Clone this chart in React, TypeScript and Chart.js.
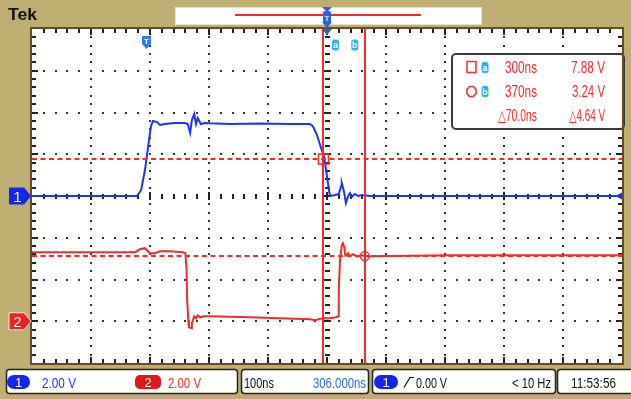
import React, { useEffect, useRef } from "react";
import { Chart, registerables } from "chart.js";
Chart.register(...registerables);

// ---- data (time in ns, voltage in V) ----
const ch1Times = [-194, -16, -9, -2.5, 4.3, 7.7, 11, 18, 23, 31, 48, 65, 70, 74, 77, 81, 84, 87, 92, 99, 108, 142, 192, 243, 277, 282, 289, 296, 301, 304, 308, 311, 320, 326, 330, 331, 335, 338, 342, 345, 348, 353, 359, 365, 379, 806];
const ch1Volts = [0, 0, 0.29, 1.25, 2.68, 3.35, 3.59, 3.54, 3.4, 3.45, 3.5, 3.5, 3.45, 3.02, 3.64, 3.93, 3.45, 3.74, 3.45, 3.5, 3.48, 3.45, 3.47, 3.45, 3.45, 3.35, 2.92, 2.3, 1.87, 1.34, 0.53, 0.0, 0.05, 0.1, 0.48, 0.62, 0.19, -0.34, 0.0, 0.14, -0.05, 0.1, 0.0, 0.05, 0.0, 0.0];
const ch2Times = [-194, -19, -11, -2.5, 6, 14.5, 23, 40, 62, 66, 68, 69, 71, 72, 76, 77, 81, 84, 87, 91, 97, 108, 175, 226, 277, 286, 298, 311, 321, 325, 326, 328, 331, 333, 335, 337, 340, 342, 345, 350, 357, 365, 379, 514, 701, 806];
const ch2Volts = [3.31, 3.31, 3.45, 3.5, 3.26, 3.26, 3.35, 3.35, 3.31, 3.26, 2.44, 1.0, 0.05, -0.29, -0.34, -0.1, 0.24, 0.14, 0.29, 0.19, 0.24, 0.24, 0.19, 0.14, 0.1, 0.05, 0.14, 0.14, 0.19, 0.24, 1.49, 2.92, 3.64, 3.74, 3.59, 3.16, 3.21, 3.26, 3.11, 3.21, 3.11, 3.16, 3.11, 3.16, 3.16, 3.16];
const voltsPerDiv = [2, 2];
const groundDiv = [0, -3];
const timeCenter = 306;
const timePerDiv = 100;
const cursorTimes = [300, 370];
const cursorVolts = [7.77, 3.12]; // referenced to channel 2
const readoutTimes = ["300ns", "370ns", "\u25B370.0ns"];
const readoutVolts = ["7.88 V", "3.24 V", "\u25B34.64 V"];
const triggerLevel = "0.00 V";
const triggerFreq = "< 10 Hz";
const clockText = "11:53:56";

const TAN = "#BFAE72";
const BROWN = "#6B4A22";
const BLUE = "#1E32F5";
const RED = "#F52A2A";
const CYAN = "#2BB0EE";
const FONT = '"Liberation Sans", Arial, sans-serif';

function rr(ctx: CanvasRenderingContext2D, x: number, y: number, w: number, h: number, r: number) {
  ctx.beginPath();
  ctx.moveTo(x + r, y);
  ctx.arcTo(x + w, y, x + w, y + h, r);
  ctx.arcTo(x + w, y + h, x, y + h, r);
  ctx.arcTo(x, y + h, x, y, r);
  ctx.arcTo(x, y, x + w, y, r);
  ctx.closePath();
}

function fitText(ctx: CanvasRenderingContext2D, text: string, left: number, right: number, base: number, size: number, color: string, weight = "normal") {
  ctx.save();
  ctx.font = `${weight} ${size}px ${FONT}`;
  ctx.fillStyle = color;
  ctx.textAlign = "left";
  ctx.textBaseline = "alphabetic";
  const w = ctx.measureText(text).width || 1;
  ctx.translate(left, base);
  ctx.scale((right - left) / w, 1);
  ctx.fillText(text, 0, 0);
  ctx.restore();
}

function centerText(ctx: CanvasRenderingContext2D, text: string, cx: number, base: number, size: number, color: string, weight = "bold") {
  ctx.save();
  ctx.font = `${weight} ${size}px ${FONT}`;
  ctx.fillStyle = color;
  ctx.textAlign = "center";
  ctx.fillText(text, cx, base);
  ctx.restore();
}

function badge(ctx: CanvasRenderingContext2D, x: number, y: number, w: number, h: number, fill: string, label: string) {
  ctx.save();
  rr(ctx, x, y, w, h, h / 2);
  ctx.fillStyle = fill;
  ctx.fill();
  centerText(ctx, label, x + w / 2, y + h - 2.5, 13, "#fff", "normal");
  ctx.restore();
}

function smallBadge(ctx: CanvasRenderingContext2D, cx: number, cy: number, label: string) {
  ctx.save();
  rr(ctx, cx - 3.5, cy - 5.5, 7, 11, 2.5);
  ctx.fillStyle = CYAN;
  ctx.fill();
  centerText(ctx, label, cx, cy + 3, 9, "#fff", "bold");
  ctx.restore();
}

const scopePlugin = {
  id: "scope",
  beforeDraw(chart: any) {
    const { ctx, chartArea: a, width, height } = chart;
    const xs = chart.scales.x, ys = chart.scales.y;
    ctx.save();
    ctx.fillStyle = TAN;
    ctx.fillRect(0, 0, width, height);
    ctx.fillStyle = "#fff";
    ctx.fillRect(a.left, a.top, a.right - a.left, a.bottom - a.top);

    const tMin = xs.min, tMax = xs.max;
    const nx = Math.round((tMax - tMin) / (timePerDiv / 5));
    const ny = Math.round((ys.max - ys.min) / 0.2);
    ctx.fillStyle = "#333";
    // dotted major lines
    for (let k = -4; k <= 4; k++) {
      const px = xs.getPixelForValue(timeCenter + k * timePerDiv);
      for (let j = 1; j < ny; j++) {
        const py = ys.getPixelForValue(ys.min + j * 0.2);
        if (k !== 0) ctx.fillRect(Math.round(px) - 1, Math.round(py) - 1, 2, 2);
      }
    }
    for (let m = -3; m <= 3; m++) {
      const py = ys.getPixelForValue(m);
      for (let i = 1; i < nx; i++) {
        const px = xs.getPixelForValue(tMin + i * timePerDiv / 5);
        if (m !== 0) ctx.fillRect(Math.round(px) - 1, Math.round(py) - 1, 2, 2);
      }
    }
    // center axes tick marks
    ctx.fillStyle = "#222";
    const cx = xs.getPixelForValue(timeCenter), cy = ys.getPixelForValue(0);
    for (let j = 1; j < ny; j++) {
      const py = ys.getPixelForValue(ys.min + j * 0.2);
      const major = j % 5 === 0;
      const L = major ? 8 : 5;
      ctx.fillRect(Math.round(cx - L / 2), Math.round(py) - 1, L, 2);
    }
    for (let i = 1; i < nx; i++) {
      const px = xs.getPixelForValue(tMin + i * timePerDiv / 5);
      const major = i % 5 === 0;
      const L = major ? 8 : 5;
      ctx.fillRect(Math.round(px) - 1, Math.round(cy - L / 2), 2, L);
    }
    // border ticks
    for (let i = 1; i < nx; i++) {
      const px = xs.getPixelForValue(tMin + i * timePerDiv / 5);
      const L = i % 5 === 0 ? 6 : 4;
      ctx.fillRect(Math.round(px) - 1, a.top, 2, L);
      ctx.fillRect(Math.round(px) - 1, a.bottom - L, 2, L);
    }
    for (let j = 1; j < ny; j++) {
      const py = ys.getPixelForValue(ys.min + j * 0.2);
      const L = j % 5 === 0 ? 6 : 4;
      ctx.fillRect(a.left, Math.round(py) - 1, L, 2);
      ctx.fillRect(a.right - L, Math.round(py) - 1, L, 2);
    }
    ctx.restore();
  },
  afterDatasetsDraw(chart: any) {
    const { ctx, chartArea: a } = chart;
    const xs = chart.scales.x, ys = chart.scales.y;
    ctx.save();
    ctx.beginPath();
    ctx.rect(a.left, a.top, a.right - a.left, a.bottom - a.top);
    ctx.clip();
    // horizontal dashed cursors (ch2 reference)
    const cyPix = cursorVolts.map((v) => ys.getPixelForValue(v / voltsPerDiv[1] + groundDiv[1]));
    const cxPix = cursorTimes.map((t) => xs.getPixelForValue(t));
    ctx.strokeStyle = RED;
    ctx.lineWidth = 2;
    ctx.setLineDash([5, 3.5]);
    cyPix.forEach((py) => {
      ctx.beginPath();
      ctx.moveTo(a.left, Math.round(py));
      ctx.lineTo(a.right, Math.round(py));
      ctx.stroke();
    });
    ctx.setLineDash([]);
    ctx.lineWidth = 2;
    cxPix.forEach((px) => {
      ctx.beginPath();
      ctx.moveTo(Math.round(px), a.top);
      ctx.lineTo(Math.round(px), a.bottom);
      ctx.stroke();
    });
    // cursor markers
    ctx.lineWidth = 1.5;
    ctx.strokeRect(cxPix[0] - 5, cyPix[0] - 5, 10, 10);
    ctx.beginPath();
    ctx.arc(cxPix[1], cyPix[1], 4.5, 0, Math.PI * 2);
    ctx.stroke();
    // cursor badges at top
    smallBadge(ctx, cxPix[0] + 12, a.top + 16, "a");
    smallBadge(ctx, cxPix[1] - 10, a.top + 16, "b");
    // trigger point marker
    const tx = xs.getPixelForValue(0);
    ctx.fillStyle = "#2E7DE8";
    ctx.beginPath();
    ctx.moveTo(tx - 4.5, a.top + 7);
    ctx.lineTo(tx + 4.5, a.top + 7);
    ctx.lineTo(tx + 4.5, a.top + 15);
    ctx.lineTo(tx, a.top + 20);
    ctx.lineTo(tx - 4.5, a.top + 15);
    ctx.closePath();
    ctx.fill();
    centerText(ctx, "T", tx, a.top + 15, 8, "#fff", "bold");
    // trigger position arrow at top center
    const tc = xs.getPixelForValue(timeCenter);
    ctx.fillStyle = "#2060E8";
    ctx.beginPath();
    ctx.moveTo(tc - 5, a.top);
    ctx.lineTo(tc + 5, a.top);
    ctx.lineTo(tc, a.top + 6);
    ctx.closePath();
    ctx.fill();
    // ch1 right end arrow
    const g1 = ys.getPixelForValue(groundDiv[0]);
    ctx.fillStyle = BLUE;
    ctx.beginPath();
    ctx.moveTo(a.right - 7, g1);
    ctx.lineTo(a.right, g1 - 3.5);
    ctx.lineTo(a.right, g1 + 3.5);
    ctx.closePath();
    ctx.fill();
    ctx.restore();

    // readout box
    ctx.save();
    const bx = 452, by = 54, bw = a.right - 452 + 2, bh = 75;
    rr(ctx, bx, by, bw, bh, 4);
    ctx.fillStyle = "#fff";
    ctx.fill();
    ctx.strokeStyle = "#3a3a3a";
    ctx.lineWidth = 2;
    ctx.stroke();
    const bases = [72.5, 96.5, 121];
    ctx.strokeStyle = RED;
    ctx.lineWidth = 1.5;
    ctx.strokeRect(467, 61.5, 9, 11);
    ctx.beginPath();
    const ocx = 471.5, ocy = 91.5;
    for (let i = 0; i < 8; i++) {
      const ang = Math.PI / 8 + (i * Math.PI) / 4;
      const px = ocx + 5 * Math.cos(ang), py = ocy + 5.5 * Math.sin(ang);
      if (i === 0) ctx.moveTo(px, py); else ctx.lineTo(px, py);
    }
    ctx.closePath();
    ctx.stroke();
    smallBadge(ctx, 485, 67.5, "a");
    smallBadge(ctx, 485, 91.5, "b");
    const tl = [505, 505, 498];
    const vl = [571, 572, 569];
    readoutTimes.forEach((s, i) => fitText(ctx, s, tl[i], 537, bases[i], 16, RED));
    readoutVolts.forEach((s, i) => fitText(ctx, s, vl[i], 605, bases[i], 16, RED));
    ctx.restore();
  },
  afterDraw(chart: any) {
    const { ctx, chartArea: a } = chart;
    const ys = chart.scales.y;
    const xs = chart.scales.x;
    ctx.save();
    // graticule border
    ctx.strokeStyle = BROWN;
    ctx.lineWidth = 2;
    ctx.strokeRect(a.left - 1, a.top - 1, a.right - a.left + 2, a.bottom - a.top + 2);

    // top bar
    fitText(ctx, "Tek", 8, 37, 20, 17, "#111", "bold");
    ctx.fillStyle = "#fff";
    ctx.fillRect(175, 7, 307, 18);
    ctx.strokeStyle = "#e8e2cc";
    ctx.lineWidth = 1;
    ctx.strokeRect(175.5, 7.5, 306, 17);
    ctx.fillStyle = RED;
    ctx.fillRect(235, 14, 186, 2);
    const tc = xs.getPixelForValue(timeCenter);
    ctx.fillStyle = "#2A62E6";
    ctx.beginPath();
    ctx.moveTo(tc - 5, 7);
    ctx.lineTo(tc + 5, 7);
    ctx.lineTo(tc, 12);
    ctx.closePath();
    ctx.fill();
    rr(ctx, tc - 4, 11, 8, 13, 2);
    ctx.fill();
    ctx.beginPath();
    ctx.moveTo(tc - 5, 22);
    ctx.lineTo(tc + 5, 22);
    ctx.lineTo(tc, 28);
    ctx.closePath();
    ctx.fill();
    centerText(ctx, "T", tc, 21, 8, "#cfe0ff", "bold");

    // channel ground markers
    const g1 = ys.getPixelForValue(groundDiv[0]);
    const g2 = ys.getPixelForValue(groundDiv[1]);
    const marker = (gy: number, fill: string, label: string, outline: boolean) => {
      ctx.beginPath();
      ctx.moveTo(9, gy - 8.5);
      ctx.lineTo(24, gy - 8.5);
      ctx.lineTo(31, gy);
      ctx.lineTo(24, gy + 8.5);
      ctx.lineTo(9, gy + 8.5);
      ctx.closePath();
      ctx.fillStyle = fill;
      ctx.fill();
      if (outline) {
        ctx.strokeStyle = "#f4e8e0";
        ctx.lineWidth = 1;
        ctx.stroke();
      }
      centerText(ctx, label, 17.5, gy + 5.5, 15, "#fff", "normal");
    };
    marker(g1, "#1426EE", "1", false);
    marker(g2, "#F02020", "2", true);

    // bottom status boxes
    const boxes = [[6, 369, 231, 24], [241, 369, 127, 24], [372, 369, 183, 24], [557, 369, 80, 24]];
    boxes.forEach(([x, y, w, h]) => {
      rr(ctx, x + 0.5, y + 0.5, w, h, 3);
      ctx.fillStyle = "#fff";
      ctx.fill();
      ctx.strokeStyle = "#222";
      ctx.lineWidth = 1.5;
      ctx.stroke();
    });
    const base = 387.5;
    badge(ctx, 7, 375, 23, 14, "#1426EE", "1");
    fitText(ctx, voltsPerDiv[0].toFixed(2) + " V", 42, 76, base, 14, "#2233EE");
    rr(ctx, 135, 375, 26, 14, 5);
    ctx.fillStyle = "#E01818";
    ctx.fill();
    centerText(ctx, "2", 148, 387, 13, "#fff", "normal");
    fitText(ctx, voltsPerDiv[1].toFixed(2) + " V", 168, 201, base, 14, RED);
    fitText(ctx, timePerDiv + "ns", 244, 274, base, 14, "#111");
    fitText(ctx, timeCenter.toFixed(3) + "ns", 313, 366, base, 14, "#2A6BEA");
    badge(ctx, 374, 375, 24, 14, "#1426EE", "1");
    ctx.strokeStyle = "#111";
    ctx.lineWidth = 1.2;
    ctx.beginPath();
    ctx.moveTo(404, 387.5);
    ctx.lineTo(410, 377.5);
    ctx.lineTo(414, 377.5);
    ctx.stroke();
    fitText(ctx, triggerLevel, 416, 447, base, 14, "#111");
    fitText(ctx, triggerFreq, 512, 551, base, 14, "#111");
    fitText(ctx, clockText, 571, 616, base, 14, "#111");
    ctx.restore();
  },
};

export default function App() {
  const ref = useRef<HTMLCanvasElement | null>(null);
  useEffect(() => {
    if (!ref.current) return;
    const chart = new Chart(ref.current, {
      type: "line",
      data: {
        datasets: [
          {
            label: "CH1",
            data: ch1Times.map((t, i) => ({ x: t, y: ch1Volts[i] / voltsPerDiv[0] + groundDiv[0] })),
            borderColor: BLUE,
            borderWidth: 2,
            pointRadius: 0,
            tension: 0,
          },
          {
            label: "CH2",
            data: ch2Times.map((t, i) => ({ x: t, y: ch2Volts[i] / voltsPerDiv[1] + groundDiv[1] })),
            borderColor: RED,
            borderWidth: 2,
            pointRadius: 0,
            tension: 0,
          },
        ],
      },
      options: {
        animation: false,
        responsive: false,
        maintainAspectRatio: false,
        devicePixelRatio: 1,
        layout: { padding: { left: 32, right: 9, top: 29, bottom: 36 } },
        scales: {
          x: { type: "linear", min: timeCenter - 5 * timePerDiv, max: timeCenter + 5 * timePerDiv, display: false },
          y: { type: "linear", min: -4, max: 4, display: false },
        },
        plugins: { legend: { display: false }, tooltip: { enabled: false } },
        events: [],
      },
      plugins: [scopePlugin],
    } as any);
    return () => chart.destroy();
  }, []);
  return (
    <div style={{ position: "fixed", left: 0, top: 0, width: 631, height: 399 }}>
      <canvas ref={ref} width={631} height={399} style={{ display: "block" }} />
    </div>
  );
}
